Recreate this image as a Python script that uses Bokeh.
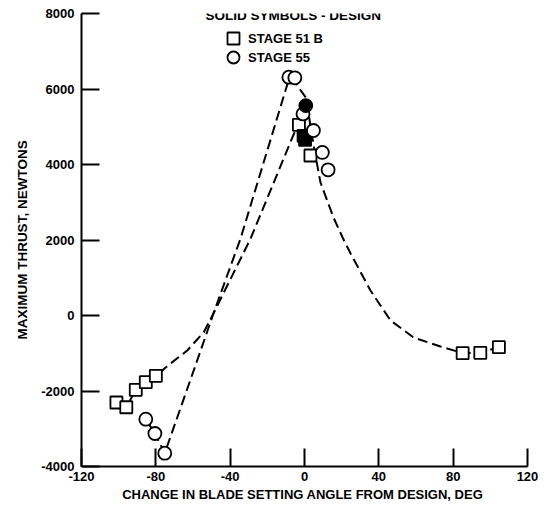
from bokeh.plotting import figure
from bokeh.models import FixedTicker, Label, Legend, LegendItem
from bokeh.embed import file_html
from bokeh.resources import INLINE

FONT = "Liberation Sans"

x_ticks = [-120, -80, -40, 0, 40, 80, 120]
y_ticks = [-4000, -2000, 0, 2000, 4000, 6000, 8000]

# Stage 51 B (squares), open = off-design, solid = design
s51_x = [-101.2, -95.9, -90.8, -85.4, -80.0, -3.0, 3.2, 85.1, 94.6, 104.6]
s51_y = [-2305, -2430, -1968, -1767, -1598, 5050, 4238, -998, -988, -840]
s51_design_x = [-0.5, 0.3]
s51_design_y = [4760, 4650]

# Stage 55 (circles)
s55_x = [-85.4, -80.5, -75.2, -8.4, -5.2, -0.8, 4.8, 9.6, 12.7]
s55_y = [-2747, -3126, -3648, 6313, 6297, 5340, 4900, 4320, 3860]
s55_design_x = [0.7]
s55_design_y = [5560]

# faired (dashed) curves
fair55_x = [-85.4, -80.5, -75.2, -55.5, -49.0, -34.4, -9.1, -7.0, 1.1, 3.3, 5.4,
            8.6, 15.6, 20.5, 24.8, 35.5, 46.3, 58.7, 73.2, 85.1, 94.6, 104.6]
fair55_y = [-2747, -3126, -3648, -874, 53, 2040, 6146, 6300, 5748, 4980, 4371,
            3523, 2596, 2066, 1642, 662, -132, -583, -821, -998, -988, -840]
fair51_x = [-101.2, -95.9, -90.8, -85.4, -80.0, -72.1, -63.1, -54.2, -49.0, -29.0, -5.7, -3.0]
fair51_y = [-2305, -2430, -1968, -1767, -1598, -1272, -927, -443, 53, 2040, 4813, 5050]

p = figure(width=540, height=507, x_range=(-120, 120), y_range=(-4000, 8000),
           output_backend="svg", toolbar_location=None,
           min_border_left=81, min_border_right=13, min_border_top=13, min_border_bottom=41)
p.outline_line_color = None
p.grid.visible = False
p.background_fill_color = "white"
p.border_fill_color = "white"

for ax in (p.xaxis[0], p.yaxis[0]):
    ax.axis_line_width = 2
    ax.axis_line_color = "black"
    ax.major_tick_line_width = 2
    ax.major_tick_line_color = "black"
    ax.major_tick_in = 18
    ax.major_tick_out = 0
    ax.minor_tick_line_color = None
    ax.major_label_text_font = FONT
    ax.major_label_text_font_style = "bold"
    ax.major_label_text_font_size = "13px"
    ax.major_label_text_color = "black"
    ax.major_label_standoff = 7
    ax.axis_label_text_font = FONT
    ax.axis_label_text_font_style = "bold"
    ax.axis_label_text_color = "black"

p.xaxis.ticker = FixedTicker(ticks=x_ticks)
p.yaxis.ticker = FixedTicker(ticks=y_ticks)
p.xaxis.major_label_overrides = {t: str(t) for t in x_ticks}
p.yaxis.major_label_overrides = {t: str(t) for t in y_ticks}
p.xaxis.major_label_standoff = 5

p.yaxis.axis_label = "MAXIMUM THRUST, NEWTONS"
p.yaxis.axis_label_text_font_size = "13.5px"
p.yaxis.axis_label_standoff = 8

p.xaxis.axis_label = "CHANGE IN BLADE SETTING ANGLE FROM DESIGN,  DEG"
p.xaxis.axis_label_text_font_size = "13px"
p.xaxis.axis_label_standoff = 3

p.line(fair51_x, fair51_y, line_color="black", line_width=2, line_dash="10 5")
p.line(fair55_x, fair55_y, line_color="black", line_width=2, line_dash="10 5")

sq = p.scatter(s51_x, s51_y, marker="square", size=12, fill_color="white",
               line_color="black", line_width=1.8)
p.scatter(s51_design_x, s51_design_y, marker="square", size=12, fill_color="black",
          line_color="black", line_width=1.8)
ci = p.scatter(s55_x, s55_y, marker="circle", size=13, fill_color="white",
               line_color="black", line_width=1.8)
p.scatter(s55_design_x, s55_design_y, marker="circle", size=13, fill_color="black",
          line_color="black", line_width=1.8)

def make_legend(label, renderer, loc):
    return Legend(items=[LegendItem(label=label, renderers=[renderer])],
                  location=loc, padding=0, margin=0, spacing=0,
                  glyph_width=30, glyph_height=30, label_standoff=0,
                  border_line_color=None, background_fill_alpha=0,
                  label_text_font=FONT, label_text_font_style="bold",
                  label_text_font_size="13px", label_text_color="black")

p.add_layout(make_legend("STAGE 51 B", sq, (137, 413)))
p.add_layout(make_legend("STAGE 55", ci, (137, 394)))

p.add_layout(Label(x=-53.3, y=7947, text="SOLID SYMBOLS - DESIGN", text_font=FONT,
                   text_font_style="bold", text_font_size="13.5px", text_color="black",
                   text_baseline="middle", text_align="left"))

open("out.html", "w").write(file_html(p, INLINE))
